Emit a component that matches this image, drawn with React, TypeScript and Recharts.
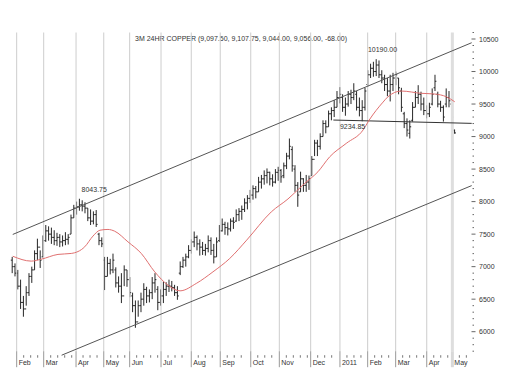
import React from "react";
import { Bar, ComposedChart, Line, ReferenceDot, ReferenceLine, XAxis, YAxis } from "recharts";

// month starts in trading-day units (day 0 = last week of Jan 2010)
const monthTicks = [3.2, 22.5, 45.6, 65.4, 83.9, 106.3, 127.9, 148.6, 170.4, 190.8, 213.2, 234.1, 253.9, 273.9, 296.1, 314.4];
const monthLabels = ["Feb", "Mar", "Apr", "May", "Jun", "Jul", "Aug", "Sep", "Oct", "Nov", "Dec", "2011", "Feb", "Mar", "Apr", "May"];

// one bar per two trading days
const highs = [
  7150, 7050, 6950, 6800, 6550, 6700, 6900, 7000, 7250, 7430,
  7250, 7480, 7640, 7620, 7600, 7560, 7520, 7500, 7480, 7530,
  7500, 7800, 7950, 8000, 8044, 8020, 7990, 7900, 7880, 7850,
  7870, 7520, 7450, 7150, 7150, 7120, 7200, 6990, 6850, 6900,
  7020, 6950, 6840, 6600, 6480, 6480, 6600, 6745, 6690, 6650,
  6840, 6900, 6700, 6650, 6770, 6760, 6800, 6780, 6720, 6700,
  7080, 7150, 7200, 7330, 7420, 7540, 7480, 7420, 7380, 7350,
  7480, 7450, 7350, 7450, 7640, 7740, 7690, 7680, 7740, 7760,
  7880, 7900, 7940, 8050, 8100, 8180, 8250, 8240, 8380, 8410,
  8480, 8510, 8460, 8420, 8500, 8535, 8500, 8600, 8750, 8970,
  8850, 8560, 8300, 8460, 8360, 8410, 8400, 8700, 8950, 8950,
  9050, 9250, 9250, 9400, 9450, 9560, 9700, 9760, 9650, 9600,
  9700, 9720, 9820, 9700, 9600, 9560, 9750, 10020, 10120, 10150,
  10190, 10170, 10020, 9950, 9900, 9950, 9980, 10000, 9900, 9750,
  9380, 9280, 9250, 9530, 9700, 9790, 9690, 9600, 9480, 9520,
  9740, 9950, 9690, 9550, 9480, 9740, 9700, 9530, 9108,
];
const lows = [
  6900, 6850, 6650, 6350, 6230, 6400, 6550, 6750, 6950, 7100,
  6980, 7150, 7380, 7400, 7350, 7330, 7320, 7300, 7310, 7330,
  7340, 7500, 7750, 7800, 7860, 7850, 7820, 7700, 7640, 7650,
  7610, 7330, 7300, 6640, 6850, 6880, 6900, 6680, 6600, 6440,
  6700, 6690, 6530, 6300, 6060, 6230, 6300, 6400, 6440, 6450,
  6500, 6600, 6330, 6400, 6440, 6550, 6610, 6620, 6550, 6490,
  6870, 6980, 7000, 7130, 7200, 7300, 7250, 7170, 7180, 7170,
  7220, 7180, 7050, 7150, 7380, 7540, 7490, 7480, 7540, 7580,
  7690, 7700, 7720, 7840, 7880, 7980, 8030, 8050, 8150, 8200,
  8260, 8280, 8250, 8230, 8280, 8320, 8290, 8360, 8500, 8650,
  8460, 8150, 7920, 8150, 8150, 8150, 8180, 8400, 8700, 8700,
  8800, 9000, 9050, 9150, 9250, 9300, 9450, 9510, 9380, 9320,
  9460, 9500, 9560, 9400, 9310, 9235, 9400, 9770, 9900, 9920,
  9930, 9900, 9820, 9700, 9620, 9540, 9700, 9790, 9650, 9380,
  9130, 9000, 8970, 9230, 9450, 9500, 9400, 9330, 9280, 9300,
  9480, 9700, 9450, 9380, 9230, 9450, 9450, 9230, 9044,
];
const opens = [
  7100, 7000, 6900, 6700, 6450, 6350, 6600, 6850, 6950, 7200,
  7300, 7150, 7400, 7550, 7500, 7450, 7400, 7450, 7380, 7400,
  7420, 7500, 7750, 7900, 7920, 7950, 7930, 7900, 7750, 7700,
  7800, 7500, 7400, 7100, 6850, 7050, 6950, 6950, 6750, 6700,
  6550, 6950, 6800, 6550, 6400, 6150, 6400, 6500, 6650, 6550,
  6600, 6750, 6650, 6450, 6550, 6650, 6700, 6700, 6680, 6600,
  6900, 7000, 7100, 7150, 7250, 7380, 7450, 7350, 7300, 7250,
  7280, 7400, 7250, 7150, 7400, 7550, 7650, 7600, 7580, 7700,
  7700, 7800, 7850, 7880, 7980, 8050, 8100, 8200, 8150, 8300,
  8350, 8400, 8450, 8350, 8300, 8450, 8480, 8400, 8550, 8700,
  8800, 8500, 8250, 8150, 8350, 8250, 8300, 8400, 8650, 8900,
  8850, 9000, 9200, 9150, 9350, 9400, 9450, 9600, 9600, 9450,
  9500, 9650, 9600, 9650, 9450, 9400, 9450, 9800, 9950, 10050,
  10000, 10100, 9950, 9900, 9800, 9700, 9800, 9900, 9900, 9700,
  9350, 9200, 9050, 9250, 9450, 9600, 9650, 9500, 9400, 9350,
  9500, 9750, 9650, 9500, 9450, 9500, 9600, 9500, 9098,
];
const closes = [
  7000, 6900, 6700, 6450, 6350, 6600, 6850, 6950, 7200, 7300,
  7100, 7400, 7550, 7500, 7450, 7400, 7450, 7380, 7400, 7420,
  7450, 7750, 7900, 7920, 7950, 7930, 7900, 7750, 7700, 7800,
  7650, 7400, 7350, 6850, 7050, 6950, 7100, 6750, 6700, 6550,
  6950, 6800, 6600, 6400, 6150, 6400, 6500, 6650, 6550, 6600,
  6750, 6800, 6450, 6550, 6650, 6700, 6700, 6680, 6600, 6550,
  7000, 7100, 7150, 7250, 7380, 7450, 7350, 7300, 7250, 7280,
  7400, 7250, 7150, 7380, 7550, 7650, 7600, 7580, 7700, 7680,
  7800, 7850, 7880, 7980, 8050, 8100, 8200, 8150, 8300, 8350,
  8400, 8450, 8350, 8300, 8450, 8480, 8380, 8550, 8700, 8850,
  8550, 8250, 8100, 8350, 8250, 8300, 8350, 8650, 8900, 8850,
  9000, 9200, 9150, 9350, 9400, 9450, 9600, 9650, 9450, 9500,
  9650, 9600, 9700, 9450, 9400, 9450, 9700, 9950, 10050, 10000,
  10100, 9950, 9900, 9800, 9700, 9800, 9900, 9950, 9750, 9450,
  9200, 9100, 9150, 9450, 9600, 9650, 9500, 9400, 9350, 9450,
  9650, 9850, 9500, 9450, 9300, 9600, 9550, 9300, 9056,
];

// moving average
const maDays = [0.4, 13.6, 20.8, 32.7, 42.2, 51.8, 57.7, 62.7, 68.4, 73.2, 82.7, 92.2, 101.8, 111.3, 119.9, 131.5, 143.4, 155.4, 167.5, 185.1, 197, 208.9, 218.4, 226.8, 238.6, 250.6, 255, 264.9, 268.4, 277.9, 292.2, 301.8, 310.1, 316.1];
const maValues = [7160, 7085, 7115, 7188, 7203, 7305, 7470, 7560, 7572, 7545, 7381, 7203, 6920, 6715, 6628, 6742, 6920, 7126, 7408, 7843, 8041, 8280, 8459, 8689, 8895, 9100, 9254, 9530, 9612, 9700, 9665, 9654, 9612, 9535];

const channelUpper = [[0.4, 7495], [328.2, 10443]];
const channelLower = [[35.3, 5638], [328.2, 8246]];
const neckline = [[229.4, 9254], [328.2, 9203]];

const notes = [
  { t: 58.6, v: 8192, text: "8043.75" },
  { t: 264.5, v: 10346, text: "10190.00" },
  { t: 243.1, v: 9154, text: "9234.85" },
];

const title = "3M 24HR COPPER (9,097.50, 9,107.75, 9,044.00, 9,056.00, -68.00)";

const bars = highs.map((h, i) => ({
  t: i * 2,
  range: [lows[i], h],
  high: h,
  low: lows[i],
  open: opens[i],
  close: closes[i],
}));
const maData = maDays.map((t, i) => ({ t, ma: maValues[i] }));

const weekTicks: number[] = [];
monthTicks.forEach((m, i) => {
  const next = monthTicks[i + 1] ?? 328;
  for (let w = m + 5; w < next - 2; w += 5) weekTicks.push(w);
});
const xTicks = [...monthTicks, ...weekTicks].sort((a, b) => a - b);

const yTicks: number[] = [];
for (let v = 5700; v <= 10600; v += 100) yTicks.push(v);

const font = "Arial, 'Liberation Sans', sans-serif";

const toSeg = (s: number[][]) => s.map(([x, y]) => ({ x, y }));

const OhlcBar = (props: any) => {
  const { x, y, width, height, payload } = props;
  const top = Math.min(y, y + height);
  const bottom = Math.max(y, y + height);
  const cx = x + width / 2;
  const span = payload.high - payload.low || 1;
  const at = (v: number) => top + ((payload.high - v) / span) * (bottom - top);
  return (
    <g stroke="#262626" strokeWidth={1}>
      <line x1={cx} x2={cx} y1={top} y2={bottom} />
      <line x1={cx - 1.4} x2={cx} y1={at(payload.open)} y2={at(payload.open)} />
      <line x1={cx} x2={cx + 1.4} y1={at(payload.close)} y2={at(payload.close)} />
    </g>
  );
};

const XTick = (props: any) => {
  const { x, y, payload } = props;
  const i = monthTicks.indexOf(payload.value);
  if (i < 0) return <line x1={x} x2={x} y1={y + 4} y2={y + 6.5} stroke="#777" />;
  const last = i === monthTicks.length - 1;
  return (
    <g>
      <line x1={x} x2={x} y1={y} y2={y + 16} stroke={last ? "#d8d8d8" : "#999"} strokeWidth={last ? 3 : 1} />
      <text x={x + 2} y={y + 13.5} fontSize={7} fontFamily={font} fill="#333">
        {monthLabels[i]}
      </text>
    </g>
  );
};

const YTick = (props: any) => {
  const { x, y, payload } = props;
  const major = payload.value % 500 === 0;
  return (
    <g>
      <line x1={major ? x - 0.5 : x + 0.5} x2={major ? x + 3.5 : x + 2} y1={y} y2={y} stroke="#666" />
      {major && (
        <text x={x + 7} y={y + 2.5} fontSize={7} fontFamily={font} fill="#333">
          {payload.value}
        </text>
      )}
    </g>
  );
};

export default function App() {
  return (
    <div style={{ position: "absolute", left: 0, top: 0, width: 505, height: 377, background: "#fff" }}>
      <div
        style={{ position: "absolute", left: 135, top: 35, fontSize: 7, lineHeight: "8px", fontFamily: font, color: "#333", whiteSpace: "nowrap" }}
      >
        {title}
      </div>
      <ComposedChart width={505} height={377} data={bars} margin={{ top: 32.5, right: 0, bottom: 0, left: 8 }}>
        <XAxis
          dataKey="t"
          type="number"
          domain={[-3, 328.43]}
          allowDataOverflow
          ticks={xTicks}
          interval={0}
          tick={<XTick />}
          tickLine={false}
          axisLine={false}
          tickSize={0}
          tickMargin={0}
          height={25.8}
        />
        <YAxis
          orientation="right"
          type="number"
          domain={[5700, 10600]}
          allowDataOverflow
          ticks={yTicks}
          interval={0}
          tick={<YTick />}
          tickLine={false}
          axisLine={false}
          tickSize={0}
          tickMargin={0}
          width={33}
        />
        {monthTicks.map((m, i) => (
          <ReferenceLine
            key={i}
            x={m}
            stroke={i === monthTicks.length - 1 ? "#dedede" : "#cdcdcd"}
            strokeWidth={i === monthTicks.length - 1 ? 3 : 1}
          />
        ))}
        <ReferenceLine segment={toSeg(channelUpper)} stroke="#555" ifOverflow="visible" />
        <ReferenceLine segment={toSeg(channelLower)} stroke="#555" ifOverflow="visible" />
        <ReferenceLine segment={toSeg(neckline)} stroke="#333" ifOverflow="visible" />
        <Bar dataKey="range" barSize={2} shape={<OhlcBar />} isAnimationActive={false} />
        <Line data={maData} dataKey="ma" type="monotone" stroke="#e07070" strokeWidth={1} dot={false} isAnimationActive={false} />
        {notes.map((n) => (
          <ReferenceDot
            key={n.text}
            x={n.t}
            y={n.v}
            r={0}
            fill="none"
            stroke="none"
            ifOverflow="visible"
            label={{ value: n.text, position: "center", fontSize: 7, fontFamily: font, fill: "#333" }}
          />
        ))}
      </ComposedChart>
    </div>
  );
}
